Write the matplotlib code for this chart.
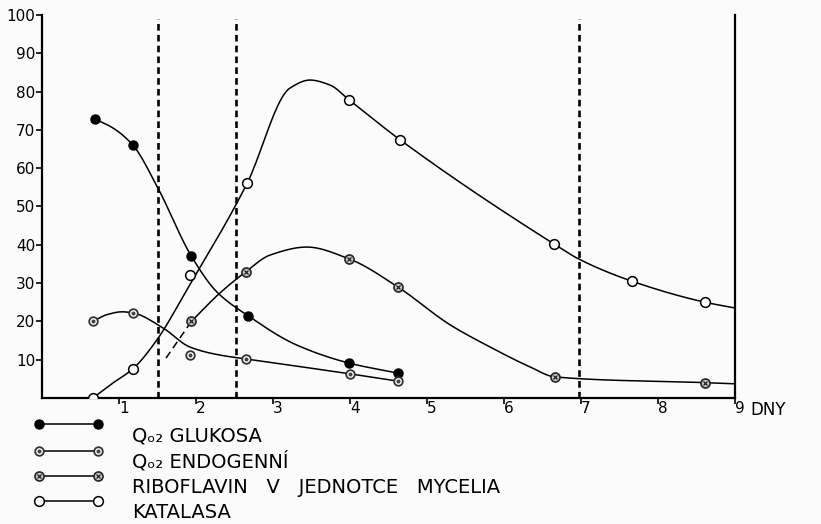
import matplotlib
matplotlib.use("Agg")
import matplotlib.pyplot as plt
from matplotlib.lines import Line2D
from matplotlib.legend_handler import HandlerLine2D
import numpy as np

# namerene body (markery)
glukosa_x = [0.69, 1.18, 1.94, 2.68, 3.99, 4.62]
glukosa_y = [72.8, 66.0, 37.0, 21.4, 9.1, 6.5]

endogenni_x = [0.66, 1.18, 1.92, 2.65, 4.00, 4.62]
endogenni_y = [20.0, 22.2, 11.2, 10.2, 6.3, 4.4]

riboflavin_x = [1.94, 2.65, 3.99, 4.62, 6.66, 8.61]
riboflavin_y = [20.0, 33.0, 36.3, 29.0, 5.5, 4.0]

katalasa_x = [0.66, 1.18, 1.92, 2.66, 3.99, 4.65, 6.65, 7.66, 8.61]
katalasa_y = [0.0, 7.6, 32.0, 56.0, 77.8, 67.4, 40.2, 30.5, 25.0]

# prubeh rucne kreslenych krivek
glukosa_kx = [0.69, 0.92, 1.18, 1.50, 1.94, 2.27, 2.68, 3.31, 3.99, 4.62]
glukosa_ky = [72.8, 70.5, 66.0, 55.0, 37.0, 27.7, 21.4, 13.8, 9.1, 6.5]

endogenni_kx = [0.66, 0.85, 1.04, 1.18, 1.57, 1.92, 2.31, 2.65, 4.00, 4.62]
endogenni_ky = [20.0, 21.8, 22.5, 22.2, 18.3, 13.3, 11.2, 10.2, 6.3, 4.4]

riboflavin_carkovane_x = [1.61, 1.94]
riboflavin_carkovane_y = [10.4, 20.0]
riboflavin_kx = [1.94, 2.31, 2.65, 2.96, 3.44, 3.99, 4.62, 5.30, 5.82, 6.34, 6.66, 8.61, 9.00]
riboflavin_ky = [20.0, 27.4, 33.0, 37.3, 39.4, 36.3, 29.0, 19.1, 13.3, 8.1, 5.5, 4.0, 3.7]

katalasa_kx = [0.66, 0.92, 1.18, 1.49, 1.88, 2.66, 3.22, 3.48, 3.74, 3.99, 4.65,
               6.65, 6.97, 7.66, 8.61, 9.00]
katalasa_ky = [0.0, 3.9, 7.6, 15.1, 28.2, 55.9, 80.9, 83.0, 81.7, 77.8, 67.4,
               40.2, 36.3, 30.5, 25.0, 23.5]

# svisle carkovane cary (dny)
carkovane_dny = [1.5, 2.52, 6.97]

y_ticks = [10, 20, 30, 40, 50, 60, 70, 80, 90, 100]
x_ticks = [1, 2, 3, 4, 5, 6, 7, 8, 9]

popisky = ["Qₒ₂ GLUKOSA",
           "Qₒ₂ ENDOGENNÍ",
           "RIBOFLAVIN   V   JEDNOTCE   MYCELIA",
           "KATALASA"]


def hladka(x, y, n=300):
    # monotonni kubicka interpolace (PCHIP) pro hladke vykresleni krivky
    x = np.asarray(x, float)
    y = np.asarray(y, float)
    h = np.diff(x)
    d = np.diff(y) / h
    m = np.zeros_like(y)
    m[0] = d[0]
    m[-1] = d[-1]
    for k in range(1, len(x) - 1):
        if d[k - 1] * d[k] > 0:
            w1 = 2 * h[k] + h[k - 1]
            w2 = h[k] + 2 * h[k - 1]
            m[k] = (w1 + w2) / (w1 / d[k - 1] + w2 / d[k])
    xs = np.linspace(x[0], x[-1], n)
    i = np.clip(np.searchsorted(x, xs) - 1, 0, len(x) - 2)
    t = (xs - x[i]) / h[i]
    h00 = 2 * t**3 - 3 * t**2 + 1
    h10 = t**3 - 2 * t**2 + t
    h01 = -2 * t**3 + 3 * t**2
    h11 = t**3 - t**2
    ys = h00 * y[i] + h10 * h[i] * m[i] + h01 * y[i + 1] + h11 * h[i] * m[i + 1]
    return xs, ys


class PosunutaZnacka(HandlerLine2D):
    # znacky v legende lezi o kus vys nez text
    def create_artists(self, *args, **kwargs):
        arts = super().create_artists(*args, **kwargs)
        for a in arts:
            a.set_ydata(np.asarray(a.get_ydata(), float) + 7.5)
        return arts


plt.rcParams['font.family'] = ['DejaVu Sans']

fig = plt.figure(figsize=(8.21, 5.24), dpi=100)
fig.patch.set_facecolor("#fbfbfb")
ax = fig.add_axes([0.0512, 0.2405, 0.844, 0.731])
ax.set_facecolor("#fbfbfb")

lw = 1.1
ms = 6.5

# krivky
ax.plot(*hladka(glukosa_kx, glukosa_ky), color="black", lw=lw, zorder=2)
ax.plot(*hladka(endogenni_kx, endogenni_ky), color="black", lw=lw, zorder=2)
ax.plot(riboflavin_carkovane_x, riboflavin_carkovane_y, color="black", lw=lw,
        ls=(0, (5, 3)), zorder=2)
ax.plot(*hladka(riboflavin_kx, riboflavin_ky), color="black", lw=lw, zorder=2)
ax.plot(*hladka(katalasa_kx, katalasa_ky), color="black", lw=lw, zorder=2)

# markery
ax.plot(glukosa_x, glukosa_y, "o", ms=ms, mfc="black", mec="black", zorder=4)
ax.plot(endogenni_x, endogenni_y, "o", ms=ms - 0.3, mfc="white", mec="#333333", mew=1.3, zorder=4)
ax.plot(endogenni_x, endogenni_y, "o", ms=1.9, mfc="#444444", mec="#444444", zorder=5)
ax.plot(riboflavin_x, riboflavin_y, "o", ms=ms, mfc="#c8c8c8", mec="#222222", mew=1.2, zorder=4)
ax.plot(riboflavin_x, riboflavin_y, "x", ms=3.2, mec="#222222", mew=0.9, zorder=5)
ax.plot(katalasa_x, katalasa_y, "o", ms=ms + 0.5, mfc="white", mec="black", mew=1.1, zorder=4)

for d in carkovane_dny:
    ax.axvline(d, ymin=0, ymax=0.99, color="black", lw=1.9, ls=(0, (2.5, 1.6)), zorder=1)

ax.set_xlim(0, 9)
ax.set_ylim(0, 100)
ax.spines["top"].set_visible(False)
for s in ["left", "bottom", "right"]:
    ax.spines[s].set_linewidth(1.6)

ax.set_yticks(y_ticks)
ax.set_yticklabels([str(v) for v in y_ticks], fontsize=11)
ax.set_xticks(x_ticks)
ax.set_xticklabels([str(v) for v in x_ticks], fontsize=11, ha="left")
ax.tick_params(axis="y", direction="out", length=4, width=1.2, pad=1)
ax.tick_params(axis="x", direction="out", length=4, width=1.2, pad=-2)

ax.text(9.2, -0.008, "DNY", transform=ax.get_xaxis_transform(), fontsize=12,
        ha="left", va="top")

# legenda
h1 = Line2D([], [], ls="-", marker="o", color="black", lw=lw, ms=ms, mfc="black")
h2a = Line2D([], [], ls="-", marker="o", color="black", lw=lw, ms=ms - 0.3, mfc="white", mec="#333333", mew=1.3)
h2b = Line2D([], [], ls="none", marker="o", ms=1.9, mfc="#444444", mec="#444444")
h3a = Line2D([], [], ls="-", marker="o", color="black", lw=lw, ms=ms, mfc="#c8c8c8", mec="#222222", mew=1.2)
h3b = Line2D([], [], ls="none", marker="x", ms=3.2, mec="#222222", mew=0.9)
h4 = Line2D([], [], ls="-", marker="o", color="black", lw=lw, ms=ms + 0.5, mfc="white", mec="black", mew=1.1)

fig.legend([h1, (h2a, h2b), (h3a, h3b), h4], popisky, loc="upper left",
           bbox_to_anchor=(0.041, 0.187), frameon=False, numpoints=2,
           handlelength=3.6, handletextpad=1.47, labelspacing=0.32,
           borderpad=0, borderaxespad=0, fontsize=14,
           handler_map={Line2D: PosunutaZnacka()})

plt.savefig("out.png", dpi=100, facecolor=fig.get_facecolor())
